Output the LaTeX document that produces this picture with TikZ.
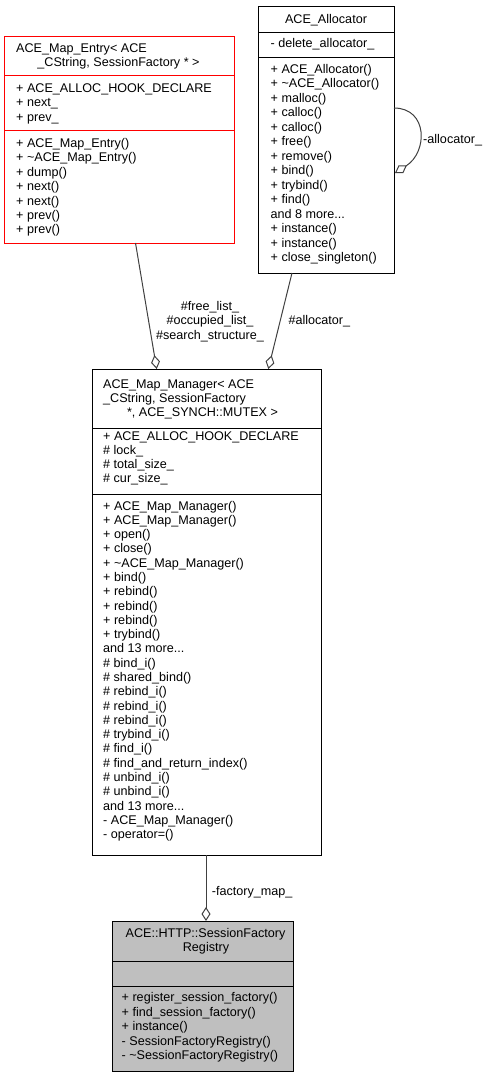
\documentclass[tikz,border=0pt]{standalone}
\usepackage{fontspec}
\setmainfont{Liberation Sans}
\usetikzlibrary{arrows.meta}
\definecolor{edgegray}{HTML}{404040}
\definecolor{regfill}{HTML}{BFBFBF}
\newcommand{\fs}{\fontsize{12.6}{14.4}\selectfont}
\newcommand{\fsa}{\fontsize{12.6}{14.5}\selectfont}
\newcommand{\fsm}{\fontsize{12.6}{14.28}\selectfont}
\begin{document}
\begin{tikzpicture}[x=1pt,y=-1pt,
  umlbox/.style={draw, line width=1pt, inner sep=0, anchor=north west},
  txt/.style={inner sep=0, anchor=north west, align=left, font=\fs, yshift=10.08pt},
  ltxt/.style={inner sep=0, anchor=base west, font=\fs},
  ctxt/.style={inner sep=0, anchor=base, font=\fs},
  ctxtblock/.style={inner sep=0, anchor=north, align=center, font=\fs, yshift=10.08pt},
  aggr/.style={draw=edgegray, line width=1pt, -{Diamond[open,length=14pt,width=9pt,line width=1pt]}}
]
\useasboundingbox (0,0) rectangle (489,1077);

% ---- ACE_Map_Entry ----
\node[umlbox, draw=red, minimum width=230pt, minimum height=207pt] (entry) at (4,36) {};
\draw[red, line width=1pt] (4,75.7) -- (234,75.7);
\draw[red, line width=1pt] (4,130) -- (234,130);
\node[ltxt] (entryt1) at (16,52) {ACE\_Map\_Entry< ACE};
\node[ctxt] (entryt2) at (118.5,66.5) {\_CString, SessionFactory * >};
\node[txt] (entrya) at (16,92) {\strut + ACE\_ALLOC\_HOOK\_DECLARE\\+ next\_\\+ prev\_};
\node[txt] (entrym) at (16,147.3) {\strut + ACE\_Map\_Entry()\\+ \textasciitilde ACE\_Map\_Entry()\\+ dump()\\+ next()\\+ next()\\+ prev()\\+ prev()};

% ---- ACE_Allocator ----
\node[umlbox, minimum width=136pt, minimum height=267pt] (alloc) at (258,6) {};
\draw[line width=1pt] (258,32) -- (394,32);
\draw[line width=1pt] (258,57) -- (394,57);
\node[ctxt] (alloct) at (326,23) {ACE\_Allocator};
\node[ltxt] (alloca) at (270.5,47) {- delete\_allocator\_};
\node[txt, font=\fsa] (allocm) at (270.5,73) {\strut + ACE\_Allocator()\\+ \textasciitilde ACE\_Allocator()\\+ malloc()\\+ calloc()\\+ calloc()\\+ free()\\+ remove()\\+ bind()\\+ trybind()\\+ find()\\and 8 more...\\+ instance()\\+ instance()\\+ close\_singleton()};

% ---- ACE_Map_Manager ----
\node[umlbox, minimum width=229pt, minimum height=486pt] (mgr) at (92,369) {};
\draw[line width=1pt] (92,428) -- (321,428);
\draw[line width=1pt] (92,494) -- (321,494);
\node[ltxt] (mgrt1) at (103,388) {ACE\_Map\_Manager< ACE};
\node[ltxt] (mgrt2) at (103,402) {\_CString, SessionFactory};
\node[ctxt] (mgrt3) at (202.5,416.5) {*, ACE\_SYNCH::MUTEX >};
\node[txt, font=\fsm] (mgra) at (103,440) {\strut + ACE\_ALLOC\_HOOK\_DECLARE\\\# lock\_\\\# total\_size\_\\\# cur\_size\_};
\node[txt, font=\fsm] (mgrm) at (103,510) {\strut + ACE\_Map\_Manager()\\+ ACE\_Map\_Manager()\\+ open()\\+ close()\\+ \textasciitilde ACE\_Map\_Manager()\\+ bind()\\+ rebind()\\+ rebind()\\+ rebind()\\+ trybind()\\and 13 more...\\\# bind\_i()\\\# shared\_bind()\\\# rebind\_i()\\\# rebind\_i()\\\# rebind\_i()\\\# trybind\_i()\\\# find\_i()\\\# find\_and\_return\_index()\\\# unbind\_i()\\\# unbind\_i()\\and 13 more...\\- ACE\_Map\_Manager()\\- operator=()};

% ---- ACE::HTTP::SessionFactoryRegistry ----
\node[umlbox, fill=regfill, minimum width=181pt, minimum height=150pt] (reg) at (112,921) {};
\draw[line width=1pt] (112,961) -- (293,961);
\draw[line width=1pt] (112,986) -- (293,986);
\node[ctxt] (regt1) at (205.5,937.3) {ACE::HTTP::SessionFactory};
\node[ctxt] (regt2) at (206,951.7) {Registry};
\node[txt, font=\fsa] (regm) at (121.5,1001.7) {\strut + register\_session\_factory()\\+ find\_session\_factory()\\+ instance()\\- SessionFactoryRegistry()\\- \textasciitilde SessionFactoryRegistry()};

% ---- connectors ----
\coordinate (e1) at (135.5,243);
\coordinate (e2) at (156.7,369);
\coordinate (a1) at (292,273);
\coordinate (a2) at (268.3,369);
\coordinate (m1) at (206,855);
\coordinate (m2) at (206,921);
\coordinate (s1) at (394,108);
\coordinate (s2) at (395,173);
\draw[aggr] (e1) -- (e2);
\draw[aggr] (a1) -- (a2);
\draw[aggr] (m1) -- (m2);
\draw[aggr] (s1) .. controls (428,108) and (428,152) .. (s2);

% ---- labels ----
\node[ctxtblock] (lbl1) at (210,310) {\strut\#free\_list\_\\\#occupied\_list\_\\\#search\_structure\_};
\node[ltxt] (lbl2) at (288.3,324) {\#allocator\_};
\node[ltxt] (lbl3) at (423,143) {-allocator\_};
\node[ltxt] (lbl4) at (211.7,895) {-factory\_map\_};
\end{tikzpicture}
\end{document}
